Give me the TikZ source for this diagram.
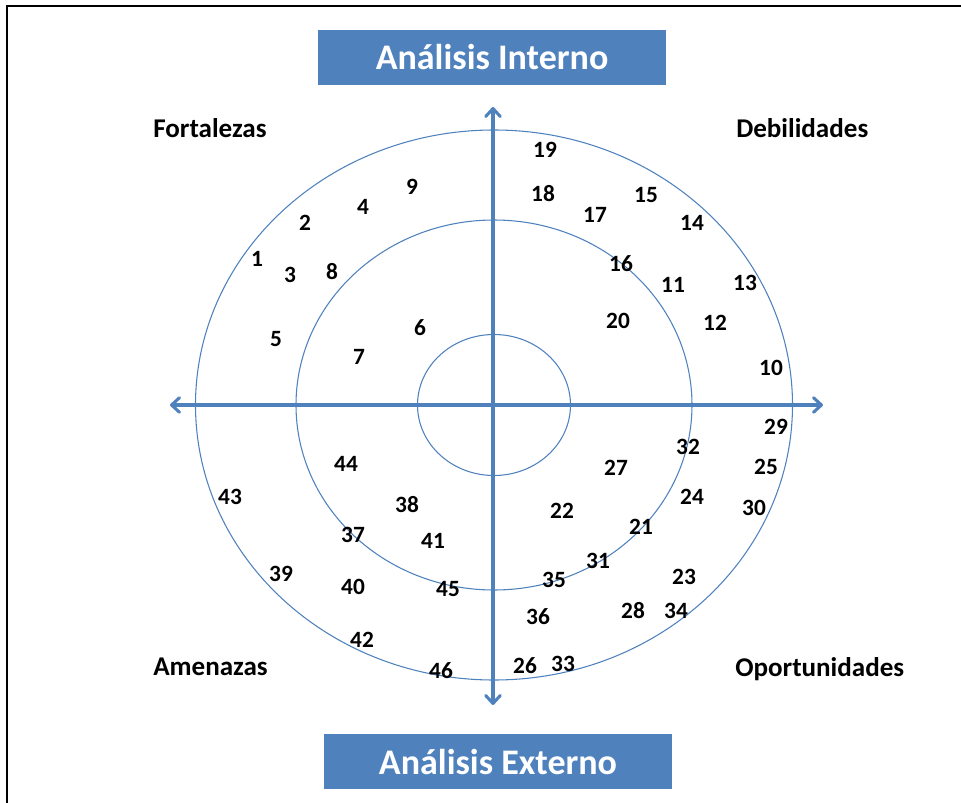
\documentclass[tikz,border=0pt]{standalone}
\usepackage{fontspec}
\setmainfont{Carlito}
\usetikzlibrary{arrows.meta}
\definecolor{foblue}{HTML}{4F81BD}
\begin{document}
\begin{tikzpicture}[x=0.75pt,y=-0.75pt,
  axis/.style={foblue,line width=2.3pt,{Straight Barb[length=6pt,width=11pt,round]}-{Straight Barb[length=6pt,width=11pt,round]}},
  ring/.style={foblue,line width=0.8pt},
  titlebox/.style={fill=foblue,text=white,font=\bfseries\fontsize{27}{30}\selectfont,minimum width=261pt,minimum height=41.25pt,inner sep=0pt},
  quad/.style={font=\bfseries\fontsize{20.3}{23}\selectfont,inner sep=0pt,anchor=base west},
  num/.style={font=\bfseries\fontsize{17.5}{20}\selectfont,inner sep=0pt}]
\useasboundingbox (0,0) rectangle (961,803);
\def\cx{494};
\def\cy{405};
%frame
\draw[line width=1.5pt] (7,803) -- (7,6) -- (961,6);
%rings
\foreach\rx/\ry in {76.5/70.5,198/185,298.5/275} {
  \draw[ring] (\cx,\cy) ellipse [x radius=\rx, y radius=\ry];
}
%axes
\coordinate (W) at (170,405);
\coordinate (E) at (823,405);
\coordinate (N) at (493,107);
\coordinate (S) at (493,705);
\draw[axis] (W) -- (E);
\draw[axis] (S) -- (N);
%titles
\node[titlebox] (interno) at (492,57.5) {Análisis Interno};
\node[titlebox] (externo) at (498,761.5) {Análisis Externo};
\node[quad] (fort) at (153,137) {Fortalezas};
\node[quad] (debil) at (736,137) {Debilidades};
\node[quad] (amen) at (153,675) {Amenazas};
\node[quad] (oport) at (735,676) {Oportunidades};
%numbers
\foreach\n/\x/\y in {1/257/259,2/305/223,3/290/275,4/363/207,5/276/339,6/420/328,7/359/357,8/332/272,9/412/187,
  10/771/368,11/673/285,12/715/323,13/745/283,14/692/223,15/646/195,16/621/264,17/595/215,18/543/194,19/545/150,20/618/321,
  21/641/527,22/562/511,23/684/577,24/692/497,25/766/467,26/525/666,27/616/468,28/633/611,29/776/427,30/754/508,
  31/598/561,32/688/447,33/563/664,34/676/611,35/554/580,36/538/617,37/353/535,38/407/505,39/281/574,40/353/587,
  41/433/541,42/362/640,43/230/497,44/346/464,45/448/589,46/441/671} {
  \node[num] (n\n) at (\x,\y) {\n};
}
\end{tikzpicture}
\end{document}
